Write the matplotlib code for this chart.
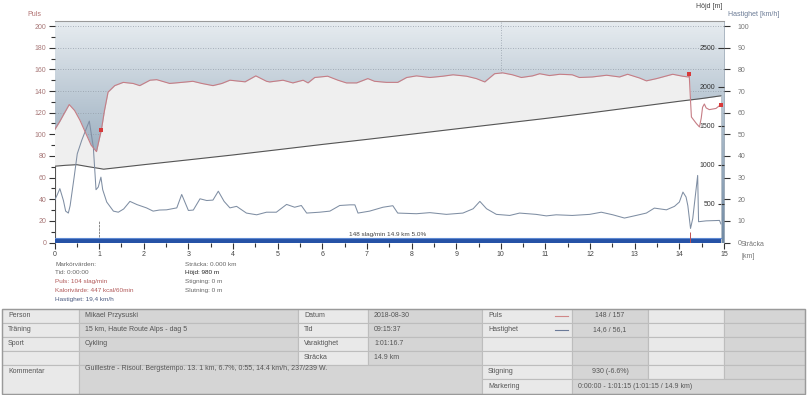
import matplotlib.pyplot as plt
import numpy as np
from matplotlib.colors import LinearSegmentedColormap
from matplotlib.patches import Rectangle
from matplotlib.ticker import MultipleLocator

plt.rcParams['font.family'] = ['Liberation Sans', 'DejaVu Sans']

# ---- data ----
# pulse (slag/min) vs distance (km)
dist_p = [0, 0.12, 0.2, 0.33, 0.45, 0.57, 0.7, 0.82, 0.94, 1.0, 1.05, 1.12, 1.2,
          1.35, 1.54, 1.76, 1.91, 2.14, 2.29, 2.58, 2.85, 3.1, 3.3, 3.55, 3.75,
          3.93, 4.27, 4.51, 4.75, 4.82, 5.12, 5.34, 5.57, 5.68, 5.83, 6.12, 6.35,
          6.54, 6.77, 7.02, 7.17, 7.44, 7.69, 7.89, 8.11, 8.41, 8.7, 8.93, 9.23,
          9.45, 9.64, 9.86, 10.04, 10.26, 10.46, 10.71, 10.87, 11.09, 11.32, 11.6,
          11.76, 12.05, 12.37, 12.66, 12.84, 13.11, 13.26, 13.49, 13.85, 14.07,
          14.2, 14.22, 14.25, 14.27, 14.38, 14.45, 14.49, 14.52, 14.56, 14.6,
          14.67, 14.82, 14.93]
pulse = [104, 112, 118, 127.5, 122, 113, 101, 90, 84, 95, 104, 122, 139,
         145, 148, 147, 145, 150, 150.5, 147, 148, 149, 147, 145, 147,
         150, 148.5, 154, 149, 148.4, 150, 147.5, 150, 147.5, 152.5, 153.7, 150,
         147.5, 147.5, 151.5, 149, 148, 148, 152.5, 154, 152.5, 153.7, 155, 153.7,
         151.5, 148.4, 156, 156.8, 155, 152.5, 154, 156, 154.3, 155.5, 155,
         152.5, 153, 154.6, 153, 155.5, 152, 149.4, 151.5, 155.5, 153.7,
         153, 155.5, 131, 116, 110, 106.8, 115, 125, 128, 124.4,
         122.8, 123.9, 127.5]

# speed (km/h) vs distance (km)
dist_s = [0, 0.06, 0.12, 0.2, 0.25, 0.31, 0.35, 0.44, 0.51, 0.61, 0.7, 0.78, 0.87,
          0.91, 0.93, 0.98, 1.04, 1.08, 1.17, 1.32, 1.43, 1.55, 1.69, 1.85, 2.06,
          2.21, 2.35, 2.51, 2.74, 2.85, 3.0, 3.11, 3.26, 3.41, 3.55, 3.67, 3.8,
          3.93, 4.08, 4.3, 4.53, 4.75, 4.97, 5.2, 5.38, 5.53, 5.65, 5.94, 6.17,
          6.39, 6.62, 6.73, 6.8, 7.06, 7.36, 7.58, 7.69, 8.11, 8.41, 8.78, 9.15,
          9.38, 9.53, 9.68, 9.9, 10.2, 10.42, 10.79, 11.02, 11.24, 11.6, 11.99,
          12.25, 12.51, 12.77, 13.03, 13.26, 13.44, 13.71, 13.89, 14.0, 14.08,
          14.15, 14.19, 14.25, 14.3, 14.41, 14.43, 14.6, 14.9, 14.93]
speed = [19.4, 22, 24.9, 19.4, 14.5, 13.6, 17, 30.2, 41, 47.2, 52, 56.1, 44,
         31, 24.4, 25.6, 30.2, 24.4, 18.7, 14.5, 14, 15.5, 19, 17.5, 16,
         14.5, 15, 15.1, 16, 22.2, 14.8, 15, 20.2, 19.4, 19.6, 23.7, 19,
         16, 16.7, 13.6, 12.8, 14, 14, 17.6, 16.3, 17.1, 13.6, 14, 14.5,
         17.1, 17.4, 17.4, 13.6, 14.5, 16.3, 17, 13.6, 13.3, 13.8, 13, 13.6,
         15.6, 19, 15.6, 13, 12.5, 13.6, 13, 12.3, 12.8, 12.5, 13,
         14, 12.8, 11.3, 12.5, 13.6, 15.9, 15.1, 16.7, 18.7, 23.3,
         21, 17, 6.5, 11.1, 31, 9.6, 10, 10.2, 8.6]

# elevation (m) vs distance (km)
dist_e = [0, 0.25, 0.5, 0.75, 1.0, 1.1, 2, 3, 4, 5, 6, 7, 8, 9, 10, 11, 12, 13,
          14, 14.5, 14.93]
elev = [980, 992, 1000, 975, 952, 942, 1000, 1062, 1125, 1192, 1260, 1325, 1392,
        1460, 1527, 1594, 1665, 1740, 1815, 1850, 1885]

lap_x = [1.05, 14.22, 14.93]
lap_pulse = [104, 155.5, 127.5]
marking = (0.0, 14.93)
bar_label = "148 slag/min 14.9 km 5.0%"

x_ticks = list(range(0, 16))
pulse_ticks = list(range(0, 201, 20))
speed_ticks = list(range(0, 101, 10))
elev_ticks = [500, 1000, 1500, 2000, 2500]

marker_left = [("Markörvärden:", '#666666'), ("Tid: 0:00:00", '#666666'),
               ("Puls: 104 slag/min", '#b25a5a'),
               ("Kalorivärde: 447 kcal/60min", '#b25a5a'),
               ("Hastighet: 19,4 km/h", '#4a5a80')]
marker_right = [("Sträcka: 0.000 km", '#666666'), ("Höjd: 980 m", '#222222'),
                ("Stigning: 0 m", '#666666'), ("Slutning: 0 m", '#666666')]

# table: (row0, row1, col0, col1, text, shade, align)
table_cells = [
    (0, 1, 0, 1, "Person", 'L', 'l'), (0, 1, 1, 2, "Mikael Przysuski", 'D', 'l'),
    (0, 1, 2, 3, "Datum", 'L', 'l'), (0, 1, 3, 4, "2018-08-30", 'D', 'l'),
    (0, 1, 4, 5, "Puls", 'L', 'l'), (0, 1, 5, 6, "148 / 157", 'D', 'c'),
    (0, 1, 6, 7, "", 'L', 'l'), (0, 1, 7, 8, "", 'D', 'l'),
    (1, 2, 0, 1, "Träning", 'L', 'l'),
    (1, 2, 1, 2, "15 km, Haute Route Alps - dag 5", 'D', 'l'),
    (1, 2, 2, 3, "Tid", 'L', 'l'), (1, 2, 3, 4, "09:15:37", 'D', 'l'),
    (1, 2, 4, 5, "Hastighet", 'L', 'l'), (1, 2, 5, 6, "14,6 / 56,1", 'D', 'c'),
    (1, 2, 6, 7, "", 'L', 'l'), (1, 2, 7, 8, "", 'D', 'l'),
    (2, 3, 0, 1, "Sport", 'L', 'l'), (2, 3, 1, 2, "Cykling", 'D', 'l'),
    (2, 3, 2, 3, "Varaktighet", 'L', 'l'), (2, 3, 3, 4, "1:01:16.7", 'D', 'l'),
    (2, 3, 4, 5, "", 'L', 'l'), (2, 3, 5, 6, "", 'D', 'l'),
    (2, 3, 6, 7, "", 'L', 'l'), (2, 3, 7, 8, "", 'D', 'l'),
    (3, 4, 0, 1, "", 'L', 'l'), (3, 4, 1, 2, "", 'D', 'l'),
    (3, 4, 2, 3, "Sträcka", 'L', 'l'), (3, 4, 3, 4, "14.9 km", 'D', 'l'),
    (3, 4, 4, 5, "", 'L', 'l'), (3, 4, 5, 6, "", 'D', 'l'),
    (3, 4, 6, 7, "", 'L', 'l'), (3, 4, 7, 8, "", 'D', 'l'),
    (4, 6, 0, 1, "Kommentar", 'L', 'l'),
    (4, 6, 1, 4, "Guillestre - Risoul. Bergstempo. 13. 1 km, 6.7%, 0:55, 14.4 km/h, 237/239 W.", 'D', 't'),
    (4, 5, 4, 5, "Stigning", 'L', 'l'), (4, 5, 5, 6, "930 (-6.6%)", 'D', 'c'),
    (4, 5, 6, 7, "", 'L', 'l'), (4, 5, 7, 8, "", 'D', 'l'),
    (5, 6, 4, 5, "Markering", 'L', 'l'),
    (5, 6, 5, 8, "0:00:00 - 1:01:15 (1:01:15 / 14.9 km)", 'D', 'l'),
]
legend_rows = {0: '#d08888', 1: '#6a7a98'}

# ---- layout (pixels) ----
W, H = 807, 395
FS = 5
fig = plt.figure(figsize=(W / 100, H / 100), dpi=100)


def fx(px):
    return px / W


def fy(py):
    return 1 - py / H


left, right, top, bottom = 54.5, 724, 20.7, 242.5
ax = fig.add_axes([fx(left), fy(bottom), fx(right) - fx(left), fy(top) - fy(bottom)])
ax.set_xlim(0, 15)
ax.set_ylim(0, 205)

# gradient background
bg = LinearSegmentedColormap.from_list('bg', ['#7089a3', '#a8b9c8', '#e7ecf0'])
ax.imshow(np.linspace(1, 0, 256).reshape(-1, 1), cmap=bg, extent=[0, 15, 0, 205],
          aspect='auto', zorder=0)
ax.set_yticks(pulse_ticks)
ax.yaxis.set_minor_locator(MultipleLocator(10))
ax.grid(axis='y', ls=(0, (1, 2)), color='#949ea9', lw=0.6)
ax.axvline(10, ls=(0, (1, 2)), color='#949ea9', lw=0.6, zorder=0.6)
ax.set_axisbelow(True)
ax.fill_between(dist_p, 0, pulse, color='#efefef', lw=0, zorder=1)

ax.set_xticks(x_ticks)
ax.xaxis.set_minor_locator(MultipleLocator(0.5))
ax.tick_params(axis='x', which='major', length=4, width=0.8, color='#333333',
               labelsize=FS, labelcolor='#444444', pad=2)
ax.tick_params(axis='x', which='minor', length=3, width=0.8, color='#333333')
ax.tick_params(axis='y', which='major', length=4, width=0.8, color='#333333',
               labelsize=FS, labelcolor='#a87878', pad=2)
ax.tick_params(axis='y', which='minor', length=3, width=0.8, color='#333333')
for s in ['left', 'bottom']:
    ax.spines[s].set_visible(False)
ax.spines['top'].set_color('#9a9a9a')
ax.spines['right'].set_color('#a4b0bc')
ax.spines['top'].set_linewidth(0.8)
ax.spines['right'].set_linewidth(0.6)

# elevation
ax_h = ax.twinx()
ax_h.set_ylim(0, 2850)
ax_h.fill_between(dist_e, 0, elev, color='white', lw=0, zorder=1)
ax_h.plot(dist_e, elev, color='#555555', lw=0.8, zorder=2)
ax_h.vlines([dist_e[0]], 0, elev[0], color='#555555', lw=0.8, zorder=2)
ax_h.vlines([dist_e[-1]], 0, elev[-1], color='#b0bac4', lw=0.5, zorder=2)
ax_h.set_yticks(elev_ticks)
ax_h.tick_params(axis='y', direction='in', length=4, width=0.8, color='#333333',
                 labelsize=FS, labelcolor='#333333', pad=-6.5)
for t in ax_h.get_yticklabels():
    t.set_ha('right')
for s in ax_h.spines.values():
    s.set_visible(False)

# speed
ax_s = ax.twinx()
ax_s.set_ylim(0, 102.5)
ax_s.plot(dist_s, speed, color='#7f8ea3', lw=0.75, zorder=3)
ax_s.set_yticks(speed_ticks)
ax_s.tick_params(axis='y', direction='out', length=4, width=0.8, color='#333333',
                 labelsize=FS, labelcolor='#777777', pad=6)
for s in ax_s.spines.values():
    s.set_visible(False)

# pulse line, laps, marking bar
ax_p = ax.twinx()
ax_p.set_ylim(0, 205)
ax_p.set_yticks([])
for s in ax_p.spines.values():
    s.set_visible(False)
ax_p.plot(dist_p, pulse, color='#c67d85', lw=0.8, zorder=3)
ax_p.scatter(lap_x, lap_pulse, marker='s', s=10, color='#d83a3a', zorder=4, lw=0)
ax_p.fill_between(list(marking), 0, 4.6, color='#2652a6', lw=0, zorder=5)
ax_p.plot(list(marking), [4.3, 4.3], color='#5f8ad2', lw=0.8, zorder=6)
ax_p.vlines([1.0], 5, 20, color='#777777', lw=0.6, ls=(0, (3, 1)), zorder=6)
ax_p.vlines([14.24], 0, 10, color='#c05050', lw=0.7, zorder=6)
ax_p.text(np.mean(marking), 5.2, bar_label, ha='center', va='bottom',
          fontsize=4.6, color='#444444', zorder=7)

# axis captions
fig.text(fx(34), fy(14), "Puls", fontsize=FS, color='#b07070', ha='center', va='center')
fig.text(fx(709), fy(6), "Höjd [m]", fontsize=FS, color='#444444', ha='center', va='center')
fig.text(fx(728), fy(15), "Hastighet [km/h]", fontsize=FS, color='#6a7a95', ha='left', va='center')
fig.text(fx(741), fy(245), "Sträcka", fontsize=FS, color='#777777', ha='left', va='center')
fig.text(fx(741), fy(257), "[km]", fontsize=FS, color='#777777', ha='left', va='center')

# marker values
for i, (txt, col) in enumerate(marker_left):
    fig.text(fx(55), fy(264 + i * 8.8), txt, fontsize=4.6, color=col, va='center')
for i, (txt, col) in enumerate(marker_right):
    fig.text(fx(185), fy(264 + i * 8.8), txt, fontsize=4.6, color=col, va='center')

# summary table
ax_t = fig.add_axes([0, 0, 1, 1], zorder=-1)
ax_t.set_xlim(0, W)
ax_t.set_ylim(H, 0)
ax_t.axis('off')
col_x = [2, 79, 298, 368, 482, 572, 648, 724, 805]
row_y = [308.5, 322.5, 336.5, 350.5, 364.5, 379, 393.5]
shade = {'L': '#e9e9e9', 'D': '#d5d5d5'}
for r0, r1, c0, c1, txt, sh, al in table_cells:
    x0, x1, y0, y1 = col_x[c0], col_x[c1], row_y[r0], row_y[r1]
    ax_t.add_patch(Rectangle((x0, y0), x1 - x0, y1 - y0, facecolor=shade[sh],
                             edgecolor='#bdbdbd', lw=0.8))
    if not txt:
        continue
    if al == 'c':
        ax_t.text((x0 + x1) / 2, (y0 + y1) / 2, txt, ha='center', va='center',
                  fontsize=FS, color='#555555')
    elif al == 't':
        ax_t.text(x0 + 6, y0 + 4, txt, ha='left', va='center', fontsize=FS, color='#555555')
    elif r1 - r0 > 1:
        ax_t.text(x0 + 6, y0 + 7, txt, ha='left', va='center', fontsize=FS, color='#555555')
    else:
        ax_t.text(x0 + 6, (y0 + y1) / 2, txt, ha='left', va='center', fontsize=FS,
                  color='#555555')
for r, col in legend_rows.items():
    yc = (row_y[r] + row_y[r + 1]) / 2
    ax_t.plot([col_x[4] + 73, col_x[4] + 86], [yc, yc], color=col, lw=0.8)
ax_t.add_patch(Rectangle((col_x[0], row_y[0]), col_x[-1] - col_x[0], row_y[-1] - row_y[0],
                         facecolor='none', edgecolor='#9a9a9a', lw=1.0))

fig.savefig("out.png", dpi=100)
